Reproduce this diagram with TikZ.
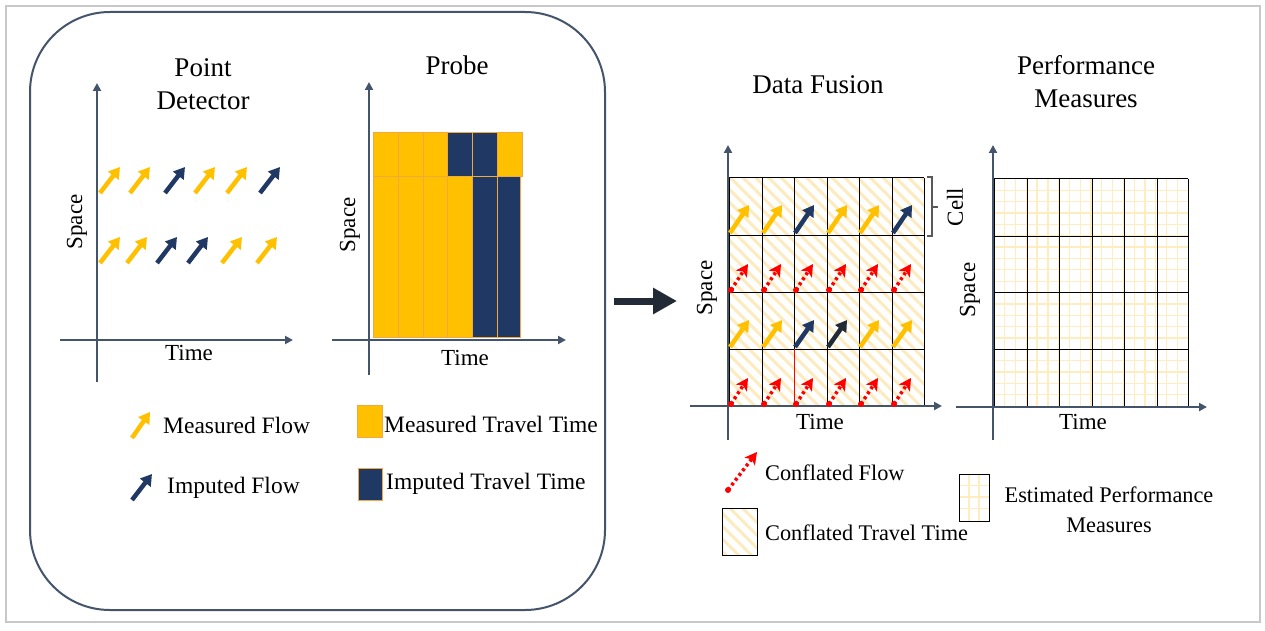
\documentclass[tikz,border=0pt]{standalone}
\usepackage{fontspec}
\setmainfont{Liberation Serif}
\usetikzlibrary{arrows.meta,patterns.meta}
\definecolor{axisc}{HTML}{44546A}
\definecolor{ylw}{HTML}{FFC000}
\definecolor{navy}{HTML}{203864}
\definecolor{dnavy}{HTML}{222A35}
\definecolor{stripe}{HTML}{FDEBC0}
\definecolor{gridc}{HTML}{FFEDC0}
\definecolor{orng}{HTML}{F0A840}
\definecolor{bordc}{HTML}{C8C8C8}
\definecolor{bracec}{HTML}{595959}
\tikzset{
  axis/.style={draw=axisc, line width=2pt, -{Triangle[length=8pt,width=8pt]}},
  flow/.style={line width=4.5pt, -{Triangle[length=11pt,width=13pt]}},
  conf/.style={red, line width=3.5pt, dash pattern=on 3pt off 3pt, -{Stealth[length=12pt,width=13pt,inset=3pt]}},
  lbl/.style={font=\fontsize{23}{26}\selectfont, inner sep=0pt},
  leg/.style={font=\fontsize{23.5}{27}\selectfont, inner sep=0pt, anchor=west},
  legr/.style={font=\fontsize{22.3}{30}\selectfont, inner sep=0pt},
  ttl/.style={font=\fontsize{27}{33}\selectfont, align=center, inner sep=0pt},
  cellline/.style={black, line width=1pt},
  stripes/.style={pattern={Lines[angle=-45,distance=9pt,line width=3pt]}, pattern color=stripe},
}
\begin{document}
\begin{tikzpicture}[x=1pt,y=-1pt]
\useasboundingbox (0,0) rectangle (1265,631);
\fill[white] (0,0) rectangle (1265,631);
\draw[bordc, line width=1.5pt] (6,6) rectangle (1260,622);
\draw[axisc, line width=2pt, rounded corners=80pt] (30,12) rectangle (605,610);

% big arrow
\coordinate (arrS) at (614,301);
\coordinate (arrE) at (677,301);
\draw[dnavy, line width=7pt, -{Triangle[length=24pt,width=25pt]}] (arrS) -- (arrE);

% ---------- Point detector ----------
\node[ttl] (ttlPD) at (203,84) {Point\\Detector};
\draw[axis] (97,382) -- (97,83);
\draw[axis] (60,340) -- (293,340);
\node[lbl, rotate=90] (spPD) at (77,222) {Space};
\node[lbl] (tmPD) at (189,353) {Time};
\foreach \x/\c in {100/ylw,130/ylw,165/navy,195/ylw,227/ylw,260/navy}
  \draw[flow,\c] (\x,193) -- (\x+20,167);
\foreach \x/\c in {100/ylw,127/ylw,157/navy,188/navy,222/ylw,257/ylw}
  \draw[flow,\c] (\x,263) -- (\x+20,237);

% ---------- Probe ----------
\node[ttl] (ttlPR) at (457,65) {Probe};
\foreach \xa/\xb/\c in {373/398/ylw,398/423/ylw,423/447/ylw,447/472/navy,472/497/navy,497/522/ylw}
  \filldraw[fill=\c, draw=orng, line width=1pt] (\xa,133) rectangle (\xb,177);
\foreach \xa/\xb/\c in {373/398/ylw,398/423/ylw,423/447/ylw,447/472/ylw,472/497/navy,497/520/navy}
  \filldraw[fill=\c, draw=orng, line width=1pt] (\xa,177) rectangle (\xb,337);
\draw[axis] (369,375) -- (369,82);
\draw[axis] (332,340) -- (566,340);
\node[lbl, rotate=90] (spPR) at (350,225) {Space};
\node[lbl] (tmPR) at (465,358) {Time};

% ---------- left legend ----------
\draw[flow,ylw] (132,438) -- (150,412);
\node[leg] (lgMF) at (163,425) {Measured Flow};
\draw[flow,navy] (132,500) -- (152,474);
\node[leg] (lgIF) at (167,488) {Imputed Flow};
\filldraw[fill=ylw, draw=orng, line width=1pt] (357,405) rectangle (382,437);
\node[leg] (lgMT) at (384,424) {Measured Travel Time};
\filldraw[fill=navy, draw=orng, line width=1pt] (358,468) rectangle (382,500);
\node[leg] (lgIT) at (386,484) {Imputed Travel Time};

% ---------- Data Fusion ----------
\node[ttl] (ttlDF) at (818,85) {Data Fusion};
\fill[stripes] (729,178) rectangle (924,406);
\foreach \x in {729,762,794,827,859,892,924}
  \draw[cellline] (\x,178) -- (\x,406);
\foreach \y in {178,235,292,349,406}
  \draw[cellline] (729,\y) -- (924,\y);
\draw[red, line width=1pt] (794,349) -- (794,406) -- (827,406);
\draw[axis] (728,440) -- (728,145);
\draw[axis] (690,406) -- (942,406);
\node[lbl, rotate=90] (spDF) at (707,288) {Space};
\node[lbl] (tmDF) at (820,422) {Time};
\foreach \x/\c in {729/ylw,762/ylw,794/navy,827/ylw,859/ylw,892/navy}
  \draw[flow,\c] (\x+1,233) -- (\x+20,205);
\foreach \x/\c in {729/ylw,762/ylw,794/navy,827/dnavy,859/ylw,892/ylw}
  \draw[flow,\c] (\x+1,347) -- (\x+20,320);
\foreach \x in {729,762,794,827,859,892}{
  \fill[red] (\x+2,290) circle (3pt);
  \draw[conf] (\x+2,290) -- (\x+19,264);
  \fill[red] (\x+2,404) circle (3pt);
  \draw[conf] (\x+2,404) -- (\x+19,378);
}
\draw[bracec, line width=1.2pt] (927,177) -- (932,177) -- (932,236) -- (927,236);
\draw[bracec, line width=1.2pt] (932,207) -- (938,207);
\node[lbl, rotate=90] (cell) at (955,207) {Cell};

% ---------- Performance Measures ----------
\node[ttl] (ttlPM) at (1086,82) {Performance\\Measures};
\foreach \i in {1,...,17}
  \draw[gridc, line width=1.3pt] (994+\i*10.78,179) -- (994+\i*10.78,406);
\foreach \i in {1,...,19}
  \draw[gridc, line width=1.3pt] (994,179+\i*11.35) -- (1188,179+\i*11.35);
\foreach \x in {994,1027,1059,1092,1124,1157,1188}
  \draw[cellline] (\x,179) -- (\x,406);
\foreach \y in {179,236,292,349,406}
  \draw[cellline] (994,\y) -- (1188,\y);
\draw[axis] (993,440) -- (993,145);
\draw[axis] (956,407) -- (1207,407);
\node[lbl, rotate=90] (spPM) at (970,290) {Space};
\node[lbl] (tmPM) at (1083,422) {Time};

% ---------- right legend ----------
\fill[red] (728,490) circle (3pt);
\draw[conf] (728,490) -- (757,452);
\node[legr, anchor=west] (lgCF) at (765,473) {Conflated Flow};
\fill[stripes] (722,508) rectangle (757,555);
\draw[black, line width=1pt] (722,508) rectangle (757,555);
\node[legr, anchor=west] (lgCT) at (765,533) {Conflated Travel Time};
\foreach \i in {1,2}
  \draw[gridc, line width=1.5pt] (959+\i*10,474) -- (959+\i*10,521);
\foreach \i in {1,2,3}
  \draw[gridc, line width=1.5pt] (959,474+\i*11.5) -- (989,474+\i*11.5);
\draw[black, line width=1pt] (959,474) rectangle (989,521);
\node[legr, align=center] (lgEP) at (1109,510) {Estimated Performance\\Measures};
\end{tikzpicture}
\end{document}
